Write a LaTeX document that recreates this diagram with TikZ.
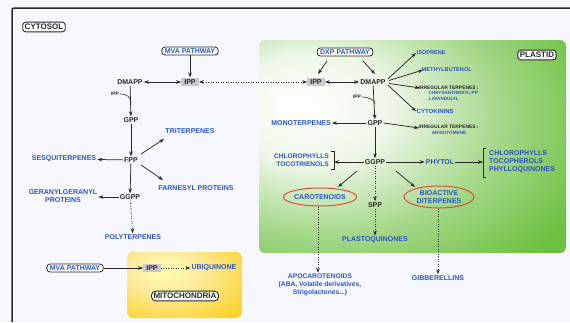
\documentclass[tikz,border=0pt]{standalone}
\usepackage{fontspec}
\setmainfont{Liberation Sans}
\usetikzlibrary{arrows.meta,shapes.geometric,calc}
\definecolor{txt}{RGB}{40,40,40}
\definecolor{blu}{RGB}{45,85,195}
\definecolor{grn}{RGB}{110,192,65}
\definecolor{grnd}{RGB}{85,170,50}
\definecolor{ylw}{RGB}{252,210,40}
\definecolor{ippg}{RGB}{200,200,206}
\definecolor{ovl}{RGB}{215,80,60}
\pgfdeclareradialshading{plastidshade}{\pgfpoint{-19bp}{10bp}}{color(0bp)=(white); color(13bp)=(white!88!grn); color(28bp)=(grn!62!white); color(43bp)=(grn); color(100bp)=(grnd)}
\pgfdeclareradialshading{mitoshade}{\pgfpoint{-10bp}{12bp}}{color(0bp)=(white!70!yellow); color(16bp)=(ylw!45!white); color(40bp)=(ylw); color(100bp)=(ylw!92!orange)}
\tikzset{
 lab/.style={font=\fontsize{7}{7.5}\selectfont\bfseries, text=txt, inner sep=1pt},
 bl/.style={lab, text=blu},
 smallb/.style={font=\fontsize{5.6}{6}\selectfont\bfseries, text=blu, inner sep=0.5pt},
 tinyt/.style={font=\fontsize{4.9}{5.6}\selectfont\bfseries, inner sep=0.5pt},
 comp/.style={draw=txt, rounded corners=3pt, line width=0.9pt, fill=white, font=\fontsize{8}{9}\selectfont\bfseries, text=txt, inner xsep=2pt, inner ysep=2pt},
 pbox/.style={draw=txt, rounded corners=3pt, line width=0.8pt, fill=white, font=\fontsize{7}{8}\selectfont\bfseries, text=blu, inner xsep=3pt, inner ysep=1.5pt},
 ippbox/.style={lab, fill=ippg, inner xsep=3pt, inner ysep=2pt},
 arr/.style={draw=txt, line width=0.75pt, -{Stealth[length=5pt,width=3.6pt]}},
 darr/.style={draw=txt, line width=0.75pt, {Stealth[length=5pt,width=3.6pt]}-{Stealth[length=5pt,width=3.6pt]}},
 dotarr/.style={arr, dash pattern=on 1pt off 1.5pt},
 ddotarr/.style={darr, dash pattern=on 1pt off 1.5pt},
 ovalnode/.style={ellipse, draw=ovl, line width=1pt, bl, inner sep=0pt, align=center},
 thin/.style={draw=txt, line width=0.6pt}
}
\begin{document}
\begin{tikzpicture}[x=1pt,y=-1pt]
\useasboundingbox (0,0) rectangle (570,322);
\fill[white!97!blue] (0,0) rectangle (570,322);
% outer frame
\draw[txt, line width=1.5pt, rounded corners=2pt] (570,8) -- (12,8) -- (12,322);

% compartments
\shade[shading=plastidshade, rounded corners=6pt] (259,40) rectangle (566,253);
\shade[shading=mitoshade, rounded corners=6pt] (127,252) rectangle (242,318);

% ---------- cytosol ----------
\node[comp] (cyt) at (44,27) {CYTOSOL};
\node[pbox] (mva1) at (190,51) {MVA PATHWAY};
\node[ippbox] (ippc) at (190,82) {IPP};
\node[lab] (dmappc) at (130,82) {DMAPP};
\node[lab, tinyt, text=txt] (ipps1) at (115,94) {IPP};
\node[lab] (gppc) at (131,120) {GPP};
\node[lab] (fpp) at (131,160) {FPP};
\node[bl] (trit) at (190,131) {TRITERPENES};
\node[bl] (sesq) at (64,159) {SESQUITERPENES};
\node[bl] (farn) at (196,188) {FARNESYL PROTEINS};
\node[lab] (ggppc) at (130,197) {GGPP};
\node[bl, align=center] (gerany) at (63,196) {GERANYLGERANYL\\PROTEINS};
\node[bl] (poly) at (133,237) {POLYTERPENES};
\coordinate (j1) at (131,103);

\draw[arr] (mva1) -- (ippc);
\draw[darr] (dmappc) -- (ippc);
\draw[arr] (dmappc) -- (gppc);
\draw[thin] (ipps1.east) .. controls (127,94) and (131,97) .. (j1);
\draw[arr] (gppc) -- (fpp);
\draw[arr] ($(fpp)+(10,-6)$) -- ($(trit)+(-26,8)$);
\draw[arr] (fpp) -- (sesq);
\draw[arr] ($(fpp)+(10,5)$) -- ($(farn)+(-33,-8)$);
\draw[arr] (fpp) -- (ggppc);
\draw[arr] (ggppc) -- (gerany.east |- ggppc);
\draw[dotarr] (ggppc) -- (poly);

% ---------- mitochondria ----------
\node[pbox] (mva2) at (75,268) {MVA PATHWAY};
\node[ippbox] (ippm) at (152,268) {IPP};
\node[bl] (ubi) at (214,268) {UBIQUINONE};
\node[comp, rounded corners=4pt] (mitol) at (185,296) {MITOCHONDRIA};
\draw[arr] (mva2) -- (ippm);
\draw[dotarr] (ippm) -- (ubi);

% ---------- plastid ----------
\node[pbox] (dxp) at (345,52) {DXP PATHWAY};
\node[comp] (plas) at (537,55) {PLASTID};
\node[ippbox] (ippp) at (316,82) {IPP};
\node[lab] (dmappp) at (373,82) {DMAPP};
\node[smallb, anchor=west] (iso) at (416,53) {ISOPRENE};
\node[smallb, anchor=west] (meth) at (421,70) {METHYLBUTENOL};
\node[tinyt, text=txt, anchor=west] (irr1) at (418,88) {IRREGULAR TERPENES :};
\node[tinyt, text=blu, anchor=north west, align=left, font=\fontsize{4.6}{5.4}\selectfont\bfseries] (chry) at (428,91) {CHRYSANTHEMYL-PP\\LAVANDULYL};
\node[smallb, anchor=west, font=\fontsize{6}{6.5}\selectfont\bfseries] (cyto) at (416,111) {CYTOKININS};
\node[tinyt, text=txt] (ipps2) at (357,97) {IPP};
\node[lab] (gppp) at (375,123) {GPP};
\node[bl] (mono) at (301,123) {MONOTERPENES};
\node[tinyt, text=txt, anchor=west] (irr2) at (418,127) {IRREGULAR TERPENES :};
\node[tinyt, text=blu, font=\fontsize{4.6}{5.4}\selectfont\bfseries] (aris) at (449,133) {ARISOTOMENE};
\node[lab] (ggppp) at (375,162) {GGPP};
\node[bl, anchor=east, align=right, font=\fontsize{6.6}{8.5}\selectfont\bfseries] (chlL) at (330,160) {CHLOROPHYLLS\\TOCOTRIENOLS};
\node[bl] (phytol) at (440,162) {PHYTOL};
\node[bl, anchor=west, align=left, font=\fontsize{7}{8}\selectfont\bfseries] (chlR) at (488,162) {CHLOROPHYLLS\\TOCOPHEROLS\\PHYLLOQUINONES};
\node[ovalnode, minimum width=70pt, minimum height=18pt] (caro) at (320,197) {CAROTENOIDS};
\node[ovalnode, minimum width=70pt, minimum height=22pt, font=\fontsize{7}{7.5}\selectfont\bfseries] (bio) at (439,197) {BIOACTIVE\\DITERPENES};
\node[lab] (spp) at (375,205) {SPP};
\node[bl] (plq) at (375,240) {PLASTOQUINONES};
\node[bl, align=center, font=\fontsize{6.7}{8}\selectfont\bfseries] (apo) at (320,285) {APOCAROTENOIDS\\(ABA, Volatile derivatives,\\Strigolactones...)};
\node[bl] (gib) at (438,278) {GIBBERELLINS};
\coordinate (j2) at (375,104);
\coordinate (brL) at (334,162);
\coordinate (brR) at (483,162);

\draw[ddotarr] (ippp) -- (ippc);
\draw[arr] ($(dxp)+(-18,9)$) -- ($(ippp)+(2,-8)$);
\draw[arr] ($(dxp)+(18,9)$) -- ($(dmappp)+(2,-8)$);
\draw[darr] (ippp) -- (dmappp);
\draw[arr] ($(dmappp.east)+(1,-3)$) -- (iso.west);
\draw[arr] ($(dmappp.east)+(2,-1.5)$) -- ([xshift=2pt]meth.west);
\draw[arr] ($(dmappp.east)+(2,1.5)$) -- ([xshift=2pt]irr1.west);
\draw[arr] ($(dmappp.east)+(1,3)$) -- ([yshift=-3pt]cyto.north west);
\draw[arr] (dmappp) -- (gppp);
\draw[thin] (ipps2.east) .. controls (369,97) and (375,100) .. (j2);
\draw[arr] (gppp) -- (mono);
\draw[arr] (gppp.east) -- ([xshift=1pt,yshift=-1pt]irr2.west);
\draw[arr] (gppp) -- (ggppp);
\draw[arr] (ggppp) -- (brL);
\draw[txt, line width=0.8pt] (331,151) -- (334,151) -- (334,169) -- (331,169);
\draw[arr] (ggppp) -- (phytol);
\draw[arr] (phytol) -- (brR);
\draw[txt, line width=0.8pt] (486,148) -- (483,148) -- (483,177) -- (486,177);
\draw[arr] ($(ggppp)+(-18,9)$) -- ($(caro)+(18,-10)$);
\draw[arr] ($(ggppp)+(21,9)$) -- ($(bio)+(-24,-10)$);
\draw[dotarr] (ggppp) -- (spp);
\draw[dotarr] (spp) -- (plq);
\draw[dotarr] ([xshift=-2pt]caro.south) -- ([xshift=-2pt]caro.south |- apo.north);
\draw[dotarr] ([xshift=-1pt]bio.south) -- ([xshift=-1pt]bio.south |- gib.north);
\end{tikzpicture}
\end{document}
